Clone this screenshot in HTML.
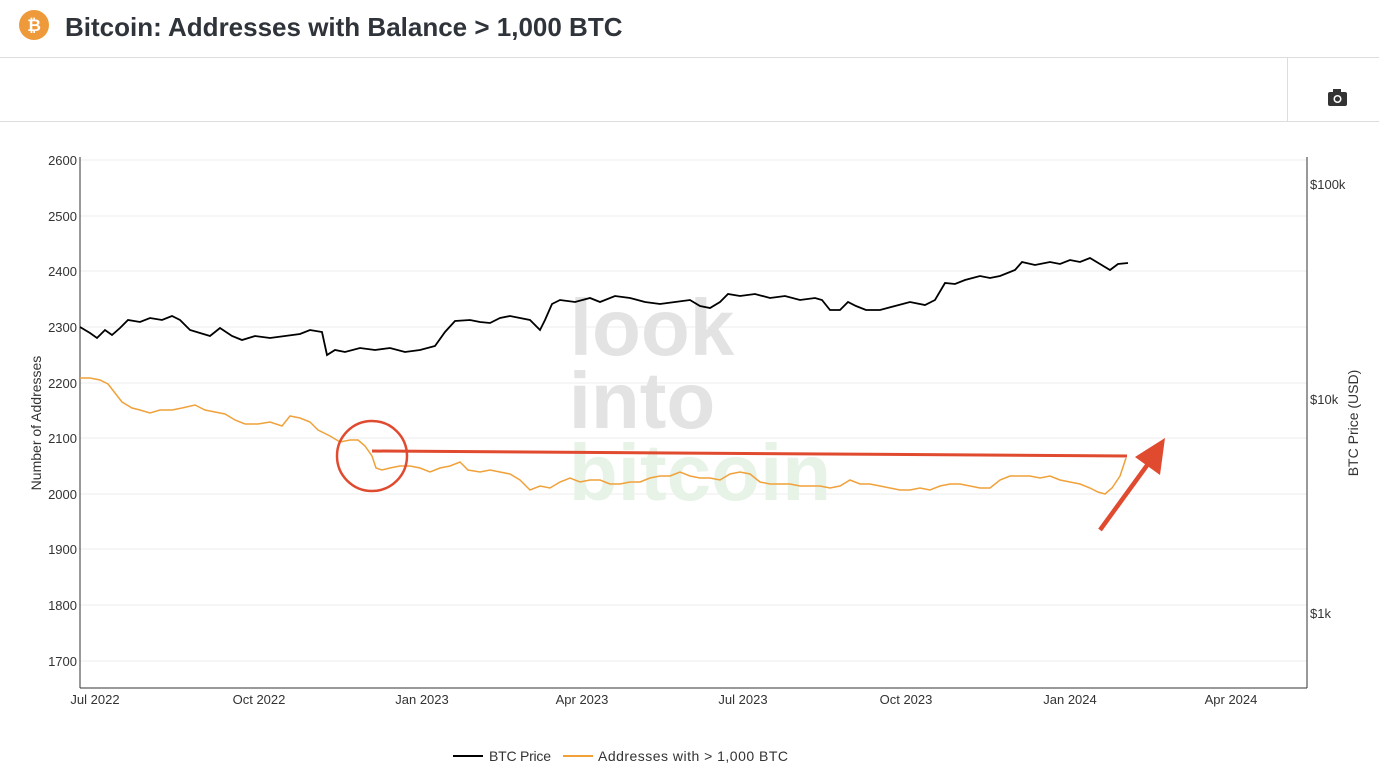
<!DOCTYPE html>
<html><head><meta charset="utf-8"><style>
body{margin:0;width:1379px;height:776px;background:#fff;overflow:hidden;font-family:"Liberation Sans",sans-serif;}
</style></head><body>
<svg width="1379" height="776" xmlns="http://www.w3.org/2000/svg" font-family="Liberation Sans, sans-serif">
<circle cx="34" cy="25" r="15" fill="#ee9a3a"/>
<text x="34" y="31" text-anchor="middle" font-size="17" font-weight="bold" fill="#fff">₿</text>
<text x="65" y="36" font-size="26" font-weight="bold" fill="#2f333a">Bitcoin: Addresses with Balance &gt; 1,000 BTC</text>
<line x1="0" y1="57.5" x2="1379" y2="57.5" stroke="#ddd"/>
<line x1="0" y1="121.5" x2="1379" y2="121.5" stroke="#ddd"/>
<line x1="1287.5" y1="57" x2="1287.5" y2="121" stroke="#ddd"/>
<rect x="1328" y="92" width="19" height="14" rx="2" fill="#333"/><rect x="1333" y="89" width="8" height="4" fill="#333"/><circle cx="1337.5" cy="99" r="4" fill="#fff"/><circle cx="1337.5" cy="99" r="2.5" fill="#333"/>
<g stroke="#eee" stroke-width="1">
<line x1="80" y1="160" x2="1307" y2="160"/><line x1="80" y1="216" x2="1307" y2="216"/><line x1="80" y1="271" x2="1307" y2="271"/><line x1="80" y1="327" x2="1307" y2="327"/><line x1="80" y1="383" x2="1307" y2="383"/><line x1="80" y1="438" x2="1307" y2="438"/><line x1="80" y1="494" x2="1307" y2="494"/><line x1="80" y1="549" x2="1307" y2="549"/><line x1="80" y1="605" x2="1307" y2="605"/><line x1="80" y1="661" x2="1307" y2="661"/>
</g>
<line x1="80" y1="157" x2="80" y2="688" stroke="#333"/>
<line x1="1307" y1="157" x2="1307" y2="688" stroke="#333"/>
<line x1="80" y1="688" x2="1307" y2="688" stroke="#333"/>
<g font-size="13" fill="#333" text-anchor="end">
<text x="77" y="165">2600</text><text x="77" y="221">2500</text><text x="77" y="276">2400</text><text x="77" y="332">2300</text><text x="77" y="388">2200</text><text x="77" y="443">2100</text><text x="77" y="499">2000</text><text x="77" y="554">1900</text><text x="77" y="610">1800</text><text x="77" y="666">1700</text>
</g>
<g font-size="13" fill="#333">
<text x="1310" y="189">$100k</text><text x="1310" y="404">$10k</text><text x="1310" y="618">$1k</text>
</g>
<g font-size="13" fill="#333" text-anchor="middle">
<text x="95" y="704">Jul 2022</text><text x="259" y="704">Oct 2022</text><text x="422" y="704">Jan 2023</text><text x="582" y="704">Apr 2023</text><text x="743" y="704">Jul 2023</text><text x="906" y="704">Oct 2023</text><text x="1070" y="704">Jan 2024</text><text x="1231" y="704">Apr 2024</text>
</g>
<text transform="translate(41,423) rotate(-90)" font-size="14" fill="#333" text-anchor="middle">Number of Addresses</text>
<text transform="translate(1358,423) rotate(-90)" font-size="14" fill="#333" text-anchor="middle">BTC Price (USD)</text>
<g font-weight="bold" font-size="80" text-anchor="middle">
<text x="652" y="355" fill="#e3e3e3">look</text>
<text x="642" y="428" fill="#e3e3e3">into</text>
<text x="700" y="500" fill="#e6f3e6">bitcoin</text>
</g>
<polyline fill="none" stroke="#000" stroke-width="1.8" points="80,327 90,333 97,338 105,330 112,335 120,328 128,320 140,322 150,318 162,320 172,316 180,320 190,330 200,333 210,336 220,328 232,336 242,340 255,336 270,338 285,336 300,334 310,330 322,332 327,355 335,350 345,352 360,348 375,350 390,348 405,352 420,350 435,346 445,332 455,321 470,320 480,322 490,323 500,318 510,316 520,318 530,320 540,330 545,320 552,304 560,300 575,302 590,298 600,302 615,296 630,298 645,302 660,304 675,302 690,300 700,306 710,308 720,302 728,294 740,296 755,294 770,298 785,296 800,300 815,298 822,300 830,310 840,310 848,302 856,306 866,310 880,310 895,306 910,302 925,305 935,300 945,283 955,284 965,280 980,276 990,278 1000,276 1015,270 1022,262 1035,265 1050,262 1060,264 1070,260 1080,262 1090,258 1100,264 1110,270 1118,264 1128,263"/>
<polyline fill="none" stroke="#f0a13a" stroke-width="1.5" points="80,378 90,378 100,380 108,384 115,393 122,402 132,408 140,410 150,413 160,410 172,410 182,408 195,405 205,410 215,412 225,414 235,420 245,424 258,424 270,422 282,426 290,416 300,418 310,422 318,430 330,436 340,442 350,440 358,440 365,446 372,456 376,468 382,470 390,468 400,466 410,466 420,468 430,472 440,468 450,466 460,462 468,470 480,472 490,470 500,472 510,474 520,480 530,490 540,486 550,488 560,482 570,478 580,482 590,480 600,480 610,484 620,484 630,482 640,482 650,478 660,476 670,476 680,472 690,476 700,478 710,478 720,480 730,474 740,472 750,474 760,482 770,484 780,484 790,484 800,486 810,486 820,486 830,488 840,486 850,480 860,484 870,484 880,486 890,488 900,490 910,490 920,488 930,490 940,486 950,484 960,484 970,486 980,488 990,488 1000,480 1010,476 1020,476 1030,476 1040,478 1050,476 1060,480 1070,482 1080,484 1090,488 1098,492 1105,494 1112,488 1120,476 1126,458"/>
<circle cx="372" cy="456" r="35" fill="none" stroke="#e04a2f" stroke-width="2.5"/>
<line x1="372" y1="451" x2="1127" y2="456" stroke="#e04a2f" stroke-width="3"/>
<line x1="1100" y1="530" x2="1148" y2="464" stroke="#e04a2f" stroke-width="4.5"/>
<polygon points="1165,438 1160,475 1135,457" fill="#e04a2f"/>
<line x1="453" y1="756" x2="483" y2="756" stroke="#000" stroke-width="2"/>
<text x="489" y="761" font-size="14" fill="#333" textLength="62">BTC Price</text>
<line x1="563" y1="756" x2="593" y2="756" stroke="#f0a13a" stroke-width="2"/>
<text x="598" y="761" font-size="14" fill="#333" textLength="190">Addresses with &gt; 1,000 BTC</text>
</svg>
</body></html>
